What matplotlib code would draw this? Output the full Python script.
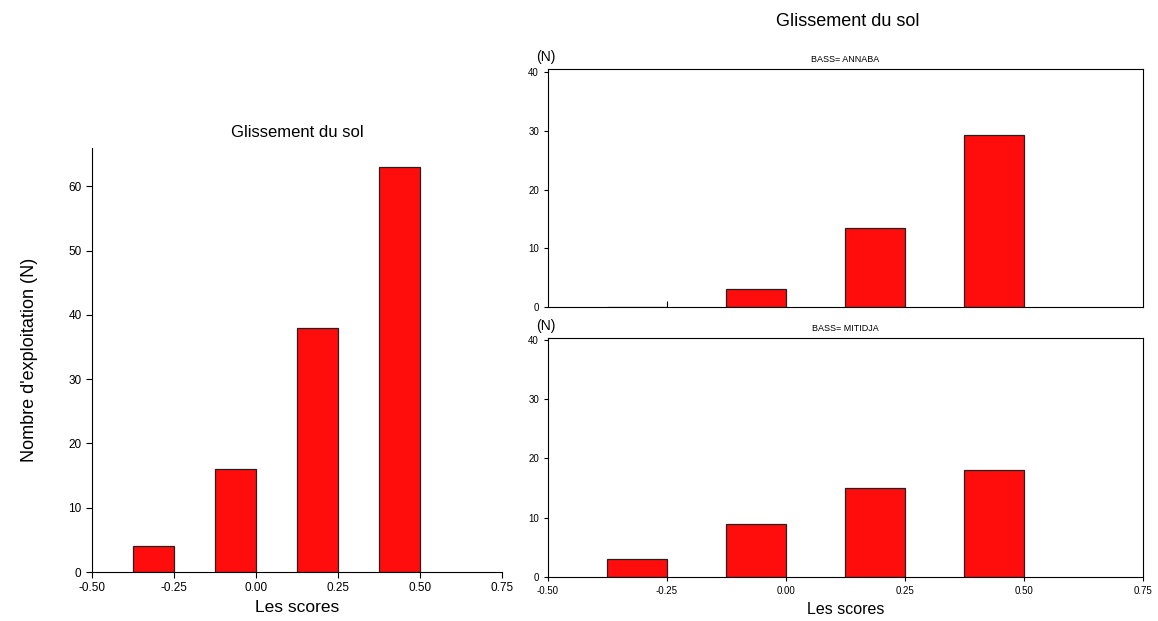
import matplotlib.pyplot as plt

plt.rcParams['font.family'] = ['Liberation Sans', 'DejaVu Sans']

# Données
bornes = [-0.375, -0.125, 0.125, 0.375]   # bord gauche de chaque classe
largeur = 0.125
total = [4, 16, 38, 63]
annaba = [0, 3, 13.5, 29.3]
mitidja = [3, 9, 15, 18]
ticks_x = [-0.50, -0.25, 0.00, 0.25, 0.50, 0.75]
rouge = '#ff0d0d'

fig = plt.figure(figsize=(11.58, 6.21), dpi=100)

# Histogramme global
ax = fig.add_axes([0.0794, 0.0789, 0.354, 0.683])
ax.bar(bornes, total, width=largeur, align='edge', color=rouge, edgecolor='#222222', linewidth=0.9)
ax.set_xlim(-0.5, 0.75)
ax.set_ylim(0, 66)
ax.set_xticks(ticks_x)
ax.set_xticklabels(['%.2f' % t for t in ticks_x])
ax.set_yticks([0, 10, 20, 30, 40, 50, 60])
ax.tick_params(labelsize=8.5, length=4)
ax.spines['top'].set_visible(False)
ax.spines['right'].set_visible(False)
ax.set_title('Glissement du sol', fontsize=12, pad=8)
ax.set_xlabel('Les scores', fontsize=12.5)
ax.set_ylabel("Nombre d'exploitation (N)", fontsize=13, labelpad=22)

# Par bassin
for pos, vals, nom, ymax in [([0.4732, 0.5056, 0.5138, 0.383], annaba, 'BASS= ANNABA', 40.5),
                             ([0.4732, 0.0709, 0.5138, 0.385], mitidja, 'BASS= MITIDJA', 40.3)]:
    a = fig.add_axes(pos)
    a.bar(bornes, vals, width=largeur, align='edge', color=rouge, edgecolor='#222222', linewidth=0.9)
    a.set_xlim(-0.5, 0.75)
    a.set_ylim(0, ymax)
    a.set_yticks([0, 10, 20, 30, 40])
    a.tick_params(labelsize=7, length=3)
    a.set_title(nom, fontsize=6.5, pad=5)
    a.text(-0.02, 1.02, '(N)', transform=a.transAxes, fontsize=10, ha='left', va='bottom')
    if nom == 'BASS= MITIDJA':
        a.set_xticks(ticks_x)
        a.set_xticklabels(['%.2f' % t for t in ticks_x])
        a.set_xlabel('Les scores', fontsize=11.5)
    else:
        a.set_xticks([-0.25])
        a.set_xticklabels([''])
        a.tick_params(axis='x', direction='in', length=4)

fig.text(0.732, 0.965, 'Glissement du sol', fontsize=13, ha='center', va='center')

fig.savefig('out.png')
